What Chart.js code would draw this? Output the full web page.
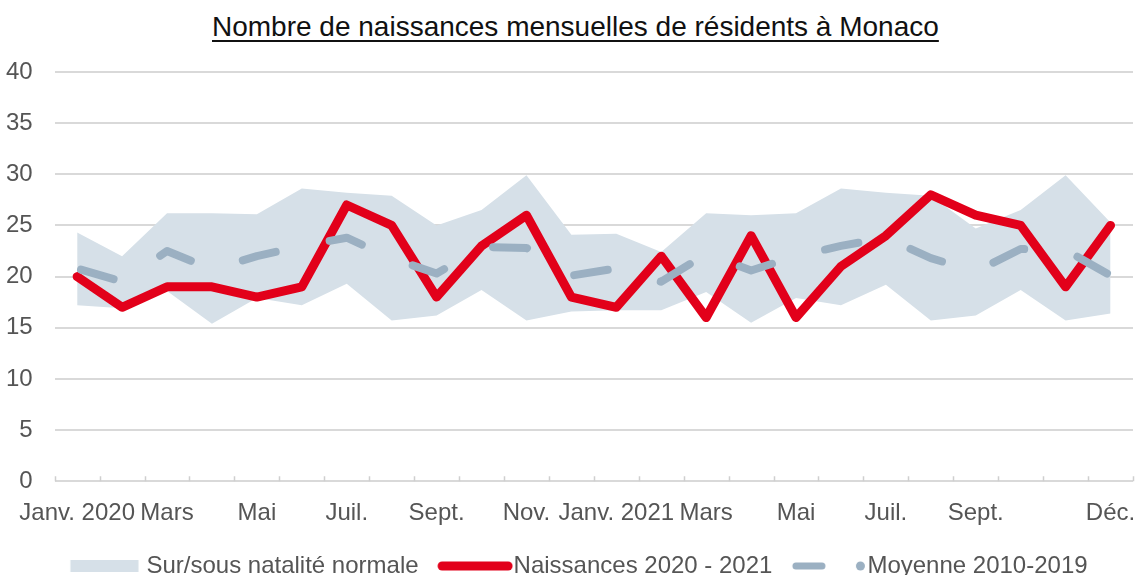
<!DOCTYPE html>
<html>
<head>
<meta charset="utf-8">
<script src="https://cdn.jsdelivr.net/npm/chart.js@4.4.0/dist/chart.umd.min.js"></script>
<style>
    html, body { margin: 0; padding: 0; background: #fff; }
    #wrap { position: relative; width: 1136px; height: 575px; }
    #title {
        position: absolute; left: 212px; top: 11px;
        font: 28px "Liberation Sans", Arial, sans-serif; color: #111;
        text-decoration: underline; text-decoration-thickness: 2px; text-underline-offset: 4px;
        white-space: nowrap;
    }
    canvas { position: absolute; left: 0; top: 0; }
</style>
</head>
<body>
<div id="wrap">
    <div id="title">Nombre de naissances mensuelles de résidents à Monaco</div>
    <canvas id="chart" width="1136" height="575"></canvas>
</div>
<script>
// Months Jan 2020 -> Dec 2021 (only some are labelled on the axis)
const monthLabels = ['Janv. 2020', '', 'Mars', '', 'Mai', '', 'Juil.', '', 'Sept.', '', 'Nov.', '',
    'Janv. 2021', '', 'Mars', '', 'Mai', '', 'Juil.', '', 'Sept.', '', '', 'Déc.'];

const births = [20, 17, 19, 19, 18, 19, 27, 25, 18, 23, 26, 18,
    17, 22, 16, 24, 16, 21, 24, 28, 26, 25, 19, 25];

const average = [20.8, 19.5, 22.5, 20.7, 22.0, 23.0, 23.8, 21.8, 20.3, 22.9, 22.8, 20.1,
    20.8, 19.5, 22.2, 20.6, 22.0, 23.0, 23.8, 21.8, 20.5, 22.7, 22.6, 20.1];

const bandHigh = [24.3, 22.0, 26.2, 26.2, 26.1, 28.6, 28.2, 27.9, 25.0, 26.5, 29.9, 24.1,
    24.2, 22.4, 26.2, 26.0, 26.2, 28.6, 28.2, 27.9, 24.7, 26.5, 29.9, 25.3];

const bandLow = [17.2, 16.9, 18.6, 15.4, 17.9, 17.2, 19.3, 15.7, 16.2, 18.7, 15.7, 16.6,
    16.7, 16.7, 18.5, 15.5, 17.9, 17.2, 19.2, 15.7, 16.2, 18.7, 15.7, 16.4];

const legendTexts = ['Sur/sous natalité normale', 'Naissances 2020 - 2021', 'Moyenne 2010-2019'];

const RED = '#e2001a';
const GREY = '#9bb0c2';
const BAND = '#d6e0e8';
const TEXT = '#555';
const FONT = '"Liberation Sans", Arial, sans-serif';

// small canvases used as legend symbols
const makeIcon = (w, h, draw) => {
    const c = document.createElement('canvas');
    c.width = w;
    c.height = h;
    draw(c.getContext('2d'));
    return c;
};

const bandIcon = makeIcon(92, 12, ctx => {
    ctx.fillStyle = BAND;
    ctx.fillRect(23.5, 0, 68, 12);
});

const redIcon = makeIcon(106, 12, ctx => {
    ctx.strokeStyle = RED;
    ctx.lineWidth = 9;
    ctx.lineCap = 'round';
    ctx.beginPath();
    ctx.moveTo(35, 6);
    ctx.lineTo(101, 6);
    ctx.stroke();
});

const greyIcon = makeIcon(104, 10, ctx => {
    ctx.strokeStyle = GREY;
    ctx.fillStyle = GREY;
    ctx.lineWidth = 7;
    ctx.lineCap = 'round';
    ctx.beginPath();
    ctx.moveTo(34, 5);
    ctx.lineTo(60, 5);
    ctx.stroke();
    ctx.beginPath();
    ctx.arc(98.5, 5, 4.5, 0, Math.PI * 2);
    ctx.fill();
});

const icons = [bandIcon, redIcon, greyIcon];

// short marks pointing up from the baseline, between months
const monthMarks = {
    id: 'monthMarks',
    afterLayout(chart) {
        // legend sits a bit right of the canvas centre in the original
        chart.legend.left += 11;
        chart.legend.right += 11;
    },
    afterDatasetsDraw(chart) {
        const x = chart.scales.x;
        const y0 = chart.chartArea.bottom;
        const ctx = chart.ctx;
        ctx.save();
        ctx.strokeStyle = '#cfcfcf';
        ctx.lineWidth = 1.5;
        ctx.beginPath();
        for (let i = 0; i <= monthLabels.length; i++) {
            const px = Math.round(x.getPixelForValue(i - 0.5)) + 0.5;
            ctx.moveTo(px, y0);
            ctx.lineTo(px, y0 - 5);
        }
        ctx.stroke();
        ctx.restore();
    }
};

const chart = new Chart(document.getElementById('chart').getContext('2d'), {
    type: 'line',
    plugins: [monthMarks],
    data: {
        labels: monthLabels,
        datasets: [
            {
                label: 'low',
                data: bandLow,
                borderWidth: 0,
                pointRadius: 0,
                fill: false,
                order: 3
            },
            {
                label: legendTexts[0],
                data: bandHigh,
                borderWidth: 0,
                pointRadius: 0,
                backgroundColor: BAND,
                fill: '-1',
                order: 2
            },
            {
                label: legendTexts[1],
                data: births,
                borderColor: RED,
                borderWidth: 9,
                borderCapStyle: 'round',
                borderJoinStyle: 'round',
                pointRadius: 0,
                fill: false,
                order: 1
            },
            {
                label: legendTexts[2],
                data: average,
                borderColor: GREY,
                borderWidth: 8,
                borderDash: [34, 55],
                borderDashOffset: -4,
                borderCapStyle: 'round',
                borderJoinStyle: 'round',
                pointRadius: 0,
                fill: false,
                order: 0
            }
        ]
    },
    options: {
        responsive: false,
        animation: false,
        layout: {
            padding: { top: 72, left: -16, right: 3, bottom: -13 }
        },
        elements: {
            line: { tension: 0 }
        },
        plugins: {
            title: { display: false },
            tooltip: { enabled: false },
            legend: {
                display: true,
                position: 'bottom',
                labels: {
                    usePointStyle: true,
                    pointStyleWidth: 83,
                    padding: 0,
                    color: TEXT,
                    font: { size: 24, family: FONT },
                    generateLabels: () => legendTexts.map((text, i) => ({
                        text,
                        pointStyle: icons[i],
                        fillStyle: 'transparent',
                        strokeStyle: 'transparent',
                        lineWidth: 0,
                        hidden: false,
                        fontColor: TEXT,
                        datasetIndex: i + 1
                    }))
                }
            }
        },
        scales: {
            x: {
                offset: true,
                grid: {
                    offset: true,
                    drawOnChartArea: false,
                    tickColor: 'transparent',
                    tickLength: 18
                },
                border: { display: false },
                ticks: {
                    autoSkip: false,
                    maxRotation: 0,
                    padding: 0,
                    color: TEXT,
                    font: { size: 24, family: FONT }
                },
                // labels may hang over the plot edges, like in the original
                afterFit: scale => {
                    scale.height += 26;
                    scale.paddingLeft = 0;
                    scale.paddingRight = 0;
                }
            },
            y: {
                min: 0,
                max: 40,
                grid: {
                    color: '#d9d9d9',
                    lineWidth: 2,
                    drawTicks: false
                },
                border: { display: false },
                ticks: {
                    stepSize: 5,
                    padding: 22,
                    color: TEXT,
                    font: { size: 24, family: FONT }
                }
            }
        }
    }
});
</script>
</body>
</html>
